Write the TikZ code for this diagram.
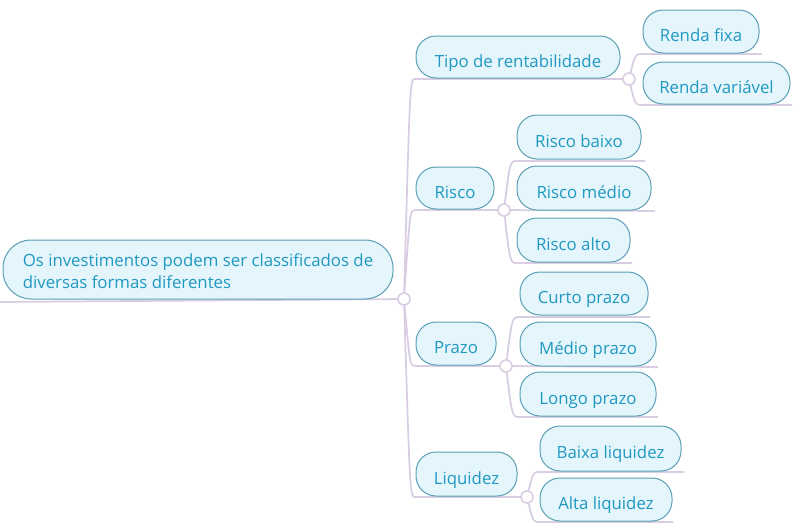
\documentclass[tikz,border=0pt]{standalone}
\usepackage{fontspec}
\setmainfont{Open Sans}
\definecolor{pillfill}{HTML}{E4F5FB}
\definecolor{pillborder}{HTML}{5A9FB4}
\definecolor{pilltext}{HTML}{2099C2}
\definecolor{linecol}{HTML}{D9CDE3}
\tikzset{
  pill/.style={draw=pillborder, fill=pillfill, text=pilltext, line width=0.75pt,
    rounded corners=15pt, inner sep=0pt, font=\fontsize{12.6}{16.5}\selectfont,
    text height=15pt, text depth=0pt},
  conn/.style={draw=linecol, line width=1.3pt},
  dot/.style={circle, draw=linecol, fill=white, line width=1.2pt, minimum size=9pt, inner sep=0pt}
}
\begin{document}
\begin{tikzpicture}[x=0.75pt,y=-0.75pt]
\useasboundingbox (0,0) rectangle (800,532);
% junction coordinates
\coordinate (rootc) at (404,299);
\coordinate (tipoc) at (629,79);
\coordinate (riscoc) at (504,210);
\coordinate (prazoc) at (506,366);
\coordinate (liqc) at (527,497);
% connector ends
\coordinate (rootL) at (0,302);
\coordinate (tipoL) at (415,79);
\coordinate (riscoL) at (415,210);
\coordinate (prazoL) at (415,366);
\coordinate (liqL) at (415,497);
\coordinate (rfixaR) at (762,54);
\coordinate (rvarR) at (792,105);
\coordinate (rbaixoR) at (645,161);
\coordinate (rmedioR) at (655,211);
\coordinate (raltoR) at (632,263);
\coordinate (curtoR) at (650,317);
\coordinate (medioR) at (658,367);
\coordinate (longoR) at (658,417);
\coordinate (baixaR) at (684,472);
\coordinate (altaR) at (673,522);
% trunk
\draw[conn] (rootL) -- (rootc);
\draw[conn] (rootc) .. controls (410,79) .. (tipoL) -- (tipoc);
\draw[conn] (rootc) .. controls (410,210) .. (riscoL) -- (riscoc);
\draw[conn] (rootc) .. controls (410,366) .. (prazoL) -- (prazoc);
\draw[conn] (rootc) .. controls (410,497) .. (liqL) -- (liqc);
% children
\draw[conn] (tipoc) .. controls (635,54) .. (643,54) -- (rfixaR);
\draw[conn] (tipoc) .. controls (635,105) .. (643,105) -- (rvarR);
\draw[conn] (riscoc) .. controls (510,161) .. (517,161) -- (rbaixoR);
\draw[conn] (riscoc) -- (rmedioR);
\draw[conn] (riscoc) .. controls (510,263) .. (517,263) -- (raltoR);
\draw[conn] (prazoc) .. controls (512,317) .. (520,317) -- (curtoR);
\draw[conn] (prazoc) -- (medioR);
\draw[conn] (prazoc) .. controls (512,417) .. (520,417) -- (longoR);
\draw[conn] (liqc) .. controls (533,472) .. (540,472) -- (baixaR);
\draw[conn] (liqc) .. controls (533,522) .. (540,522) -- (altaR);
% pills
\node[pill, rounded corners=21pt, minimum width=292.5pt, minimum height=44.25pt, text height=, text depth=] (root) at (198,269.5)
  {\raisebox{0pt}[12pt][15.8pt]{\begin{tabular}[t]{@{}l@{}}Os investimentos podem ser classificados de\\diversas formas diferentes\end{tabular}}};
\node[pill, minimum width=153pt, minimum height=31.5pt] (tipo) at (518,57) {Tipo de rentabilidade};
\node[pill, minimum width=87pt, minimum height=32.25pt] (rfixa) at (701,31.5) {Renda fixa};
\node[pill, minimum width=110.25pt, minimum height=31.5pt] (rvar) at (716.5,83) {Renda variável};
\node[pill, minimum width=58.5pt, minimum height=31.5pt] (risco) at (455,188) {Risco};
\node[pill, minimum width=93pt, minimum height=33pt] (rbaixo) at (579,137) {Risco baixo};
\node[pill, minimum width=100.5pt, minimum height=33pt] (rmedio) at (584,188) {Risco médio};
\node[pill, minimum width=84.75pt, minimum height=33pt] (ralto) at (573.5,240) {Risco alto};
\node[pill, minimum width=60pt, minimum height=32.25pt] (prazo) at (456,343.5) {Prazo};
\node[pill, minimum width=96pt, minimum height=32.25pt] (curto) at (584,293.5) {Curto prazo};
\node[pill, minimum width=102pt, minimum height=33pt] (medio) at (588,344) {Médio prazo};
\node[pill, minimum width=102pt, minimum height=33pt] (longo) at (588,394) {Longo prazo};
\node[pill, minimum width=75.75pt, minimum height=33pt] (liq) at (466.5,474) {Liquidez};
\node[pill, minimum width=105.75pt, minimum height=33.75pt] (baixa) at (610.5,448.5) {Baixa liquidez};
\node[pill, minimum width=99pt, minimum height=32.25pt] (alta) at (606,499.5) {Alta liquidez};
% junction dots
\node[dot] (rootdot) at (rootc) {};
\node[dot] (tipodot) at (tipoc) {};
\node[dot] (riscodot) at (riscoc) {};
\node[dot] (prazodot) at (prazoc) {};
\node[dot] (liqdot) at (liqc) {};
\end{tikzpicture}
\end{document}
